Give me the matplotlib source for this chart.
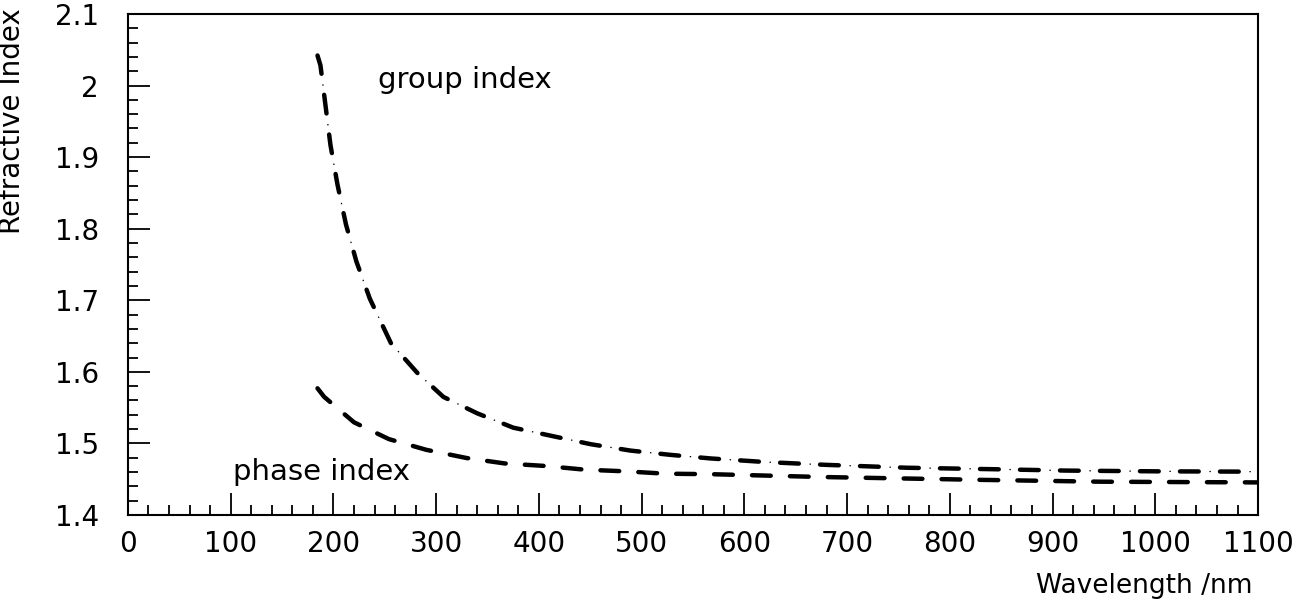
import matplotlib
matplotlib.use("Agg")
import matplotlib.pyplot as plt
from matplotlib.ticker import MultipleLocator, FormatStrFormatter

# avlästa värden (nm, brytningsindex)
group_nm = [184.5, 187.4, 192.3, 197.1, 203.9, 212.2, 222.4, 235.5, 256, 282, 307,
            340, 375, 414, 450, 489, 528, 567, 620, 680, 758, 840, 914, 1000, 1100]
group_n = [2.042, 2.028, 1.972, 1.917, 1.862, 1.806, 1.754, 1.702, 1.640, 1.598, 1.565,
           1.542, 1.522, 1.510, 1.499, 1.490, 1.484, 1.479, 1.474, 1.470, 1.466, 1.464,
           1.462, 1.461, 1.4605]

phase_nm = [184.5, 191, 220, 254, 290.5, 329.5, 366.7, 407, 444.6, 484, 523, 567,
            677, 833, 946, 1100]
phase_n = [1.577, 1.565, 1.5295, 1.506, 1.491, 1.4796, 1.472, 1.4684, 1.4633, 1.461,
           1.4577, 1.457, 1.453, 1.449, 1.4465, 1.4455]

x_ticks = list(range(0, 1101, 100))
y_ticks = [1.4, 1.5, 1.6, 1.7, 1.8, 1.9, 2.0, 2.1]

plt.rcParams["font.family"] = "DejaVu Sans"
plt.rcParams["lines.scale_dashes"] = False

fig = plt.figure(figsize=(13.15, 6.05), dpi=100)
ax = fig.add_axes([0.0973, 0.1488, 0.8594, 0.8281])

# fasindex: streckad
ax.plot(phase_nm, phase_n, color="black", lw=3.2,
        linestyle=(0, (13.5, 13.8)), dash_capstyle="round")

# grupindex: streck + liten punkt
ax.plot(group_nm, group_n, color="black", lw=3.2,
        linestyle=(0, (13.5, 15.3)), dash_capstyle="round")
ax.plot(group_nm, group_n, color="black", lw=0.9,
        linestyle=(7.6, (1.0, 27.8)))

ax.text(243, 1.996, "group index", fontsize=21, va="baseline", ha="left")
ax.text(102, 1.449, "phase index", fontsize=21, va="baseline", ha="left")

ax.set_xlim(0, 1100)
ax.set_ylim(1.4, 2.1)
ax.set_xticks(x_ticks)
ax.set_yticks(y_ticks)
ax.xaxis.set_minor_locator(MultipleLocator(20))
ax.yaxis.set_minor_locator(MultipleLocator(0.02))
ax.yaxis.set_major_formatter(FormatStrFormatter("%g"))

ax.tick_params(which="both", direction="in", top=False, right=False, width=1.3)
ax.tick_params(which="major", length=16)
ax.tick_params(which="minor", length=7.5)
ax.tick_params(axis="x", which="major", labelsize=20, pad=11)
ax.tick_params(axis="y", which="major", labelsize=20, pad=21)

for s in ax.spines.values():
    s.set_linewidth(1.5)

ax.set_xlabel("Wavelength /nm", fontsize=19, loc="right", va="baseline")
ax.xaxis.set_label_coords(0.9947, -0.156)
ax.set_ylabel("Refractive Index", fontsize=20, loc="top")
ax.yaxis.set_label_coords(-0.0905, 1.012)

fig.savefig("out.png", dpi=100)
